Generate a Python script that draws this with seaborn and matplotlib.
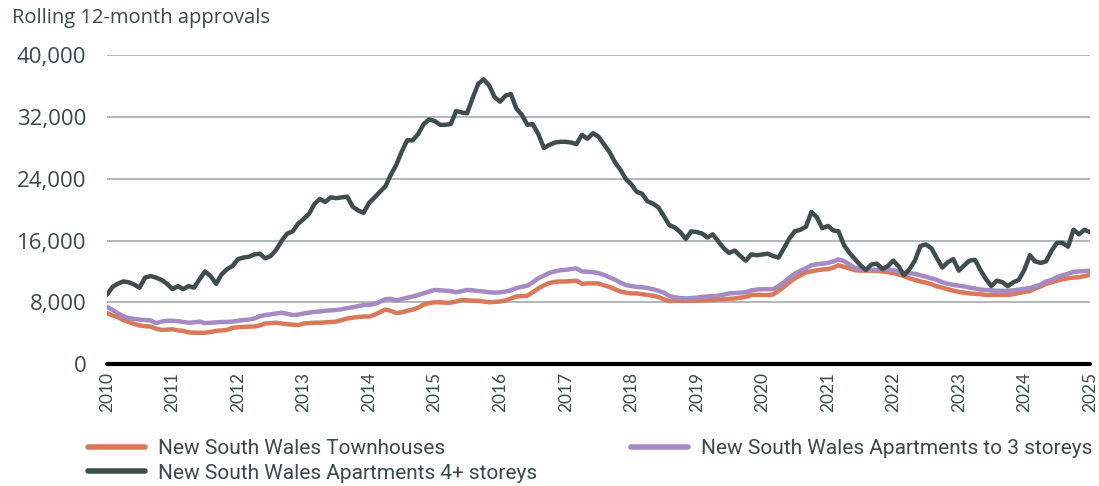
import pandas as pd
import numpy as np
import matplotlib
matplotlib.use("Agg")
import matplotlib.pyplot as plt
from matplotlib.lines import Line2D
import seaborn as sns

# monthly values, Jan 2010 .. Jan 2025
townhouses = [
    6600, 6300, 6100, 5700, 5450, 5200, 5000, 4900, 4850, 4600, 4420, 4450,
    4500, 4350, 4300, 4100, 4050, 4050, 4050, 4150, 4300, 4350, 4420, 4700,
    4750, 4800, 4850, 4850, 5000, 5250, 5300, 5350, 5250, 5150, 5100, 5050,
    5250, 5300, 5350, 5350, 5400, 5450, 5500, 5700, 5900, 6000, 6100, 6150,
    6150, 6400, 6700, 7050, 6900, 6600, 6700, 6900, 7050, 7300, 7700, 7900,
    8000, 8000, 7950, 7950, 8100, 8300, 8250, 8200, 8200, 8100, 8000, 8050,
    8100, 8250, 8500, 8750, 8800, 8850, 9300, 9800, 10200, 10500, 10650, 10700,
    10700, 10750, 10800, 10400, 10450, 10450, 10450, 10200, 10000, 9700, 9400, 9250,
    9150, 9150, 9050, 8950, 8850, 8700, 8400, 8150, 8200, 8200, 8200, 8200,
    8200, 8250, 8250, 8300, 8350, 8400, 8450, 8500, 8600, 8700, 8950, 8950,
    8950, 8950, 9000, 9500, 10000, 10600, 11100, 11500, 11900, 12000, 12150, 12250,
    12300, 12500, 12800, 12600, 12400, 12150, 12100, 12100, 12100, 12050, 12000, 11900,
    11800, 11600, 11400, 11100, 10900, 10700, 10550, 10350, 10050, 9900, 9700, 9500,
    9350, 9250, 9150, 9100, 9050, 8950, 8950, 8950, 8950, 8950, 9050, 9200,
    9350, 9450, 9800, 10050, 10400, 10600, 10800, 11000, 11100, 11200, 11250, 11400,
    11540,
]

apts_to_3 = [
    7400, 7000, 6600, 6200, 5950, 5850, 5750, 5700, 5650, 5300, 5500, 5600,
    5600, 5550, 5450, 5350, 5400, 5500, 5300, 5350, 5400, 5450, 5450, 5500,
    5600, 5700, 5750, 5900, 6200, 6350, 6450, 6550, 6650, 6500, 6350, 6400,
    6550, 6650, 6750, 6800, 6900, 6950, 7000, 7100, 7250, 7350, 7500, 7650,
    7650, 7800, 8050, 8400, 8450, 8250, 8400, 8600, 8750, 8950, 9150, 9400,
    9600, 9550, 9500, 9450, 9300, 9450, 9600, 9550, 9450, 9400, 9300, 9250,
    9300, 9400, 9550, 9850, 10000, 10150, 10600, 11100, 11450, 11800, 12000, 12150,
    12200, 12300, 12400, 12000, 11950, 11900, 11800, 11550, 11250, 10950, 10550, 10250,
    10100, 10000, 9950, 9850, 9700, 9500, 9250, 8800, 8650, 8550, 8500, 8550,
    8600, 8700, 8750, 8800, 8850, 9000, 9150, 9200, 9250, 9300, 9550, 9650,
    9700, 9700, 9700, 10100, 10600, 11200, 11700, 12100, 12400, 12800, 12950, 13000,
    13100, 13300, 13550, 13350, 12900, 12450, 12300, 12250, 12200, 12200, 12400, 12300,
    12150, 12000, 11800, 11750, 11700, 11500, 11300, 11100, 10900, 10600, 10400, 10250,
    10150, 10050, 9900, 9800, 9650, 9600, 9550, 9500, 9500, 9500, 9550, 9650,
    9750, 9850, 10050, 10300, 10700, 10900, 11250, 11500, 11700, 11950, 12000, 12050,
    12100,
]

apts_4_plus = [
    9000, 10000, 10400, 10700, 10600, 10300, 9900, 11200, 11400, 11200, 10900, 10400,
    9700, 10100, 9700, 10100, 9900, 11000, 12000, 11400, 10400, 11600, 12300, 12700,
    13600, 13800, 13900, 14200, 14300, 13700, 14000, 14800, 16000, 16900, 17200, 18200,
    18800, 19500, 20700, 21400, 21000, 21600, 21500, 21600, 21700, 20400, 19900, 19600,
    20900, 21600, 22300, 23000, 24500, 25800, 27500, 29000, 29000, 29800, 31100, 31700,
    31500, 31000, 31000, 31100, 32800, 32600, 32500, 34500, 36300, 36900, 36100, 34600,
    34000, 34800, 35000, 33100, 32300, 31000, 31100, 29800, 28000, 28400, 28700, 28800,
    28800, 28700, 28500, 29700, 29200, 29900, 29500, 28500, 27500, 26200, 25200, 24000,
    23300, 22300, 22100, 21100, 20800, 20300, 19200, 18000, 17700, 17100, 16200, 17200,
    17100, 16900, 16400, 16800, 15900, 15000, 14400, 14700, 14000, 13400, 14200, 14100,
    14200, 14300, 14000, 13800, 15000, 16300, 17200, 17400, 17800, 19700, 19000, 17600,
    17900, 17300, 17200, 15400, 14400, 13600, 12800, 12200, 12900, 13000, 12300, 12700,
    13400, 12600, 11500, 12300, 13400, 15300, 15500, 15000, 13700, 12500, 13200, 13600,
    12100, 12800, 13400, 13500, 12200, 11000, 10100, 10800, 10600, 10100, 10600, 10900,
    12200, 14100, 13300, 13100, 13300, 14700, 15700, 15700, 15200, 17400, 16800, 17400,
    17100,
]

series_names = [
    "New South Wales Townhouses",
    "New South Wales Apartments to 3 storeys",
    "New South Wales Apartments 4+ storeys",
]
colors = ["#d8795a", "#a68ac4", "#3f4d4d"]
yticks = [0, 8000, 16000, 24000, 32000, 40000]

dates = pd.date_range("2010-01-01", periods=len(townhouses), freq="MS")
df = pd.DataFrame({
    "date": np.tile(dates, 3),
    "value": townhouses + apts_to_3 + apts_4_plus,
    "series": np.repeat(series_names, len(dates)),
})

sns.set_style("white")
plt.rcParams["font.family"] = ["Open Sans", "DejaVu Sans"]
text_col = "#3d4848"

fig = plt.figure(figsize=(10.99, 4.86), dpi=100)
ax = fig.add_axes([0.0974, 0.251, 0.8944, 0.635])

for y in yticks[1:]:
    ax.axhline(y, color="#9ea3a6", lw=1.1, zorder=0)

sns.lineplot(data=df, x="date", y="value", hue="series", hue_order=series_names,
             palette=colors, linewidth=3.2, ax=ax, legend=False, zorder=3)

ax.axhline(0, color="black", lw=3, zorder=4, clip_on=False)

ax.set_xlim(pd.Timestamp("2010-01-01"), pd.Timestamp("2025-01-01"))
ax.set_ylim(0, 40000)
ax.set_yticks(yticks)
ax.set_yticklabels([f"{v:,}" for v in yticks], fontsize=16, color=text_col)
years = pd.date_range("2010-01-01", "2025-01-01", freq="YS")
ax.set_xticks(years)
ax.set_xticklabels([str(d.year) for d in years], rotation=90, fontsize=12.5,
                   color=text_col, family=["Lato", "DejaVu Sans"])
ax.tick_params(axis="both", length=0)
ax.tick_params(axis="x", pad=6)
ax.tick_params(axis="y", pad=15)
ax.set_xlabel("")
ax.set_ylabel("")
for s in ax.spines.values():
    s.set_visible(False)

fig.text(0.011, 0.962, "Rolling 12-month approvals", fontsize=14.5, color=text_col,
         va="center", ha="left")

handles = [Line2D([], [], color=colors[0], lw=4),
           Line2D([], [], color=colors[2], lw=4),
           Line2D([], [], color=colors[1], lw=4)]
labels = [series_names[0], series_names[2], series_names[1]]
fig.legend(handles, labels, ncol=2, loc="upper left", bbox_to_anchor=(0.080, 0.097),
           frameon=False, handlelength=2.74, handletextpad=0.62,
           columnspacing=4.5, labelspacing=0.28, borderpad=0, borderaxespad=0,
           labelcolor=text_col,
           prop={"family": ["Roboto", "DejaVu Sans"], "size": 15})

fig.savefig("out.png", dpi=100)
